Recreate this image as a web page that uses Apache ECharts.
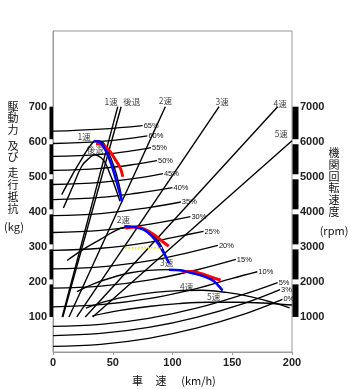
<!DOCTYPE html>
<html>
<head>
<meta charset="utf-8">
<script src="https://cdn.jsdelivr.net/npm/echarts@6/dist/echarts.min.js"></script>
<style>
html, body { margin: 0; padding: 0; background: #fff; }
#main { width: 350px; height: 389px; }
</style>
</head>
<body>
<div id="main"></div>
<script>
// 目盛
const speedTicks = [0, 50, 100, 150, 200]
const kgTicks = [100, 200, 300, 400, 500, 600, 700]
const rpmTicks = [1000, 2000, 3000, 4000, 5000, 6000, 7000]

// 走行抵抗（勾配別） [km/h, kg]
const gradeNames = ['0%', '3%', '5%', '10%', '15%', '20%', '25%', '30%', '35%', '40%', '45%', '50%', '55%', '60%', '65%']
const gradeCurves = [
  [[0, 16], [40, 22], [80, 39], [120, 68], [160, 108], [192, 150]],
  [[0, 47], [40, 53], [80, 70], [120, 99], [160, 139], [190, 178]],
  [[0, 73], [40, 79], [80, 96], [120, 125], [160, 165], [188, 198]],
  [[0, 129], [40, 135], [80, 152], [120, 181], [150, 210], [171, 229]],
  [[0, 182], [40, 188], [80, 205], [120, 234], [153, 264]],
  [[0, 237], [40, 243], [80, 260], [110, 281], [138, 304]],
  [[0, 290], [40, 296], [80, 313], [105, 330], [126, 344]],
  [[0, 341], [40, 347], [80, 364], [115, 386]],
  [[0, 389], [40, 395], [80, 412], [107, 428]],
  [[0, 435], [40, 441], [70, 453], [100, 469]],
  [[0, 478], [40, 484], [70, 496], [92, 509]],
  [[0, 518], [40, 524], [70, 536], [87, 546]],
  [[0, 558], [40, 564], [70, 576], [82, 583]],
  [[0, 595], [40, 601], [79, 617]],
  [[0, 630], [40, 636], [75, 646]]
]

// 各段の機関回転速度 [km/h, rpm]
const gearNames = ['1速', '後退', '2速', '3速', '4速', '5速']
const gearLines = [
  [[7.7, 1000], [54.2, 7000]],
  [[8.2, 1000], [57, 7000]],
  [[13.4, 1000], [94, 7000]],
  [[19.9, 1000], [139, 7000]],
  [[27, 1000], [188, 7000]],
  [[33.2, 1000], [200, 6030]]
]
const gearLabelPos = [[48.7, 7150], [66, 7150], [94, 7170], [141.5, 7150], [190, 7080], [191, 6230]]

// 駆動力 [km/h, kg]
const forceNames = ['1速', '後退', '2速', '3速', '4速', '5速']
const forceCurves = [
  [[7.3, 449], [14, 492], [20, 528], [26, 562], [31, 588], [36, 603], [41, 600], [46, 572], [51, 530], [55, 482], [58, 430]],
  [[8.7, 411], [15, 460], [24, 530], [30, 552], [35, 563], [40, 555], [44, 538], [48, 505], [51, 480], [56, 430]],
  [[11.8, 261], [25, 292], [40, 322], [50, 342], [60, 356], [70, 357], [77, 349], [84, 332], [89, 312], [93, 285], [97, 254]],
  [[20, 172], [35, 196], [50, 213], [65, 226], [80, 233], [97, 235], [108, 232], [116, 226], [126, 216], [135, 201], [142, 176]],
  [[27.5, 125], [45, 145], [65, 160], [85, 170], [105, 175], [125, 176], [145, 170], [165, 158], [185, 140], [198, 126]],
  [[33, 103], [55, 118], [80, 130], [105, 138], [130, 142], [155, 142], [175, 140], [200, 134]]
]
const forceLabelPos = [[26, 614], [35.3, 577], [58.8, 378], [95, 255], [111.8, 187], [134.5, 158]]

// 色付きの線
const blueCurves = [
  [[34, 602], [39.5, 598], [45, 568], [49.3, 530], [53.5, 482], [57.7, 430]],
  [[59.7, 359], [67.5, 357], [75.9, 349], [82.9, 330], [88.5, 306], [92.7, 283], [95.5, 264], [96.9, 254]],
  [[96.9, 235], [106.7, 233], [115.1, 226], [126.3, 216], [134.7, 202], [138.9, 187], [141.8, 176]]
]
const redCurves = [
  [[36, 594], [40.9, 592], [46.5, 577], [52.1, 549], [56.3, 525], [58.4, 500]],
  [[60.5, 354], [70.3, 357], [77.3, 349], [84.3, 335], [91.3, 316], [96.9, 302]],
  [[108.2, 230], [115.1, 230], [123.5, 224], [131.9, 214], [140.3, 205]]
]
const yellowLine = [[60.5, 297], [91.3, 297]]

const chart = echarts.init(document.getElementById('main'))
const numFont = 'Liberation Sans'
const jpFont = 'Noto Sans CJK JP'

function lineSeries (data, color, width, yIndex, extra) {
  return Object.assign({
    type: 'line',
    data: data,
    yAxisIndex: yIndex,
    showSymbol: false,
    symbol: 'none',
    smooth: 0.4,
    lineStyle: { color: color, width: width },
    silent: true
  }, extra || {})
}

const series = []
gradeCurves.forEach((c, i) => {
  series.push(lineSeries(c, '#000', 1.3, 0, {
    endLabel: {
      show: true,
      formatter: gradeNames[i],
      distance: 1,
      fontSize: 7.5,
      fontFamily: numFont,
      color: '#111'
    }
  }))
})
gearLines.forEach((c) => {
  series.push(lineSeries(c, '#000', 1.4, 1, { smooth: false }))
})
forceCurves.forEach((c) => {
  series.push(lineSeries(c, '#000', 1.4, 0))
})
redCurves.forEach((c) => {
  series.push(lineSeries(c, '#ff0000', 3, 0))
})
blueCurves.forEach((c) => {
  series.push(lineSeries(c, '#0000ff', 2.5, 0))
})
series.push(lineSeries(yellowLine, '#f2e600', 1.6, 0, {
  smooth: false,
  lineStyle: { color: '#f2e600', width: 1.6, type: 'dotted' }
}))

// 文字ラベル
const textLabel = { show: true, position: 'inside', fontSize: 8.5, fontFamily: jpFont, color: '#111' }
series.push({
  type: 'scatter',
  yAxisIndex: 1,
  symbolSize: 0,
  silent: true,
  data: gearLabelPos.map((p, i) => ({ value: p, name: gearNames[i] })),
  label: Object.assign({ formatter: '{b}' }, textLabel)
})
series.push({
  type: 'scatter',
  yAxisIndex: 0,
  symbolSize: 0,
  silent: true,
  data: forceLabelPos.map((p, i) => ({ value: p, name: forceNames[i] })),
  label: Object.assign({ formatter: '{b}' }, textLabel)
})

const option = {
  animation: false,
  backgroundColor: '#fff',
  grid: {
    left: 53,
    right: 58,
    top: 31,
    bottom: 37,
    show: true,
    borderColor: '#999',
    borderWidth: 1
  },
  xAxis: {
    type: 'value',
    min: 0,
    max: 200,
    interval: 50,
    axisLine: { lineStyle: { color: '#999' } },
    axisTick: { show: true, length: 3, lineStyle: { color: '#999' } },
    splitLine: { show: false },
    axisLabel: {
      margin: 5,
      fontSize: 11,
      fontWeight: 'bold',
      fontFamily: numFont,
      color: '#222',
      formatter: (v) => speedTicks.includes(v) ? String(v) : ''
    }
  },
  yAxis: [
    {
      type: 'value',
      min: 0,
      max: 916,
      interval: 100,
      axisLine: { show: true, lineStyle: { color: '#999' } },
      axisTick: { show: false },
      splitLine: { show: false },
      axisLabel: {
        margin: 6,
        fontSize: 11,
        fontWeight: 'bold',
        fontFamily: numFont,
        color: '#222',
        formatter: (v) => kgTicks.includes(v) ? String(v) : ''
      }
    },
    {
      type: 'value',
      position: 'right',
      min: 0,
      max: 9160,
      interval: 1000,
      axisLine: { show: false },
      axisTick: { show: false },
      splitLine: { show: false },
      axisLabel: {
        margin: 8,
        fontSize: 11,
        fontWeight: 'bold',
        fontFamily: numFont,
        color: '#222',
        formatter: (v) => rpmTicks.includes(v) ? String(v) : ''
      }
    }
  ],
  series: series
}
chart.setOption(option)

// 軸の太線と見出し
function drawExtras () {
  const els = []
  const xl = chart.convertToPixel({ xAxisIndex: 0 }, 0)
  const xr = chart.convertToPixel({ xAxisIndex: 0 }, 200)
  for (let i = 0; i < kgTicks.length - 1; i++) {
    const lo = kgTicks[i]
    const hi = kgTicks[i + 1]
    let yTop = chart.convertToPixel({ yAxisIndex: 0 }, hi)
    let yBot = chart.convertToPixel({ yAxisIndex: 0 }, lo)
    if (i < kgTicks.length - 2) yTop += 2.5
    if (i > 0) yBot -= 2.5
    els.push({ type: 'rect', shape: { x: xl - 3.5, y: yTop, width: 4.5, height: yBot - yTop }, style: { fill: '#000' }, silent: true })
    els.push({ type: 'rect', shape: { x: xr + 0.5, y: yTop, width: 6, height: yBot - yTop }, style: { fill: '#000' }, silent: true })
  }
  const t = (text, x, y, lh) => ({
    type: 'text',
    x: x,
    y: y,
    silent: true,
    style: {
      text: text,
      fontSize: 11,
      fontFamily: jpFont,
      fill: '#111',
      textAlign: 'center',
      textVerticalAlign: 'top',
      lineHeight: lh || 12
    }
  })
  els.push(t('駆\n動\n力', 13, 101, 11.5))
  els.push(t('及\nび', 13, 140, 11.5))
  els.push(t('走\n行\n抵\n抗', 13, 167, 12))
  els.push(t('(kg)', 14, 221, 12))
  els.push(t('機\n関\n回\n転\n速\n度', 334, 147, 11.8))
  els.push(t('(rpm)', 334, 225, 12))
  els.push(t('車', 137.5, 375, 12))
  els.push(t('速', 161, 375, 12))
  els.push(t('(km/h)', 198.5, 375, 12))
  chart.setOption({ graphic: els })
}
drawExtras()
</script>
</body>
</html>
